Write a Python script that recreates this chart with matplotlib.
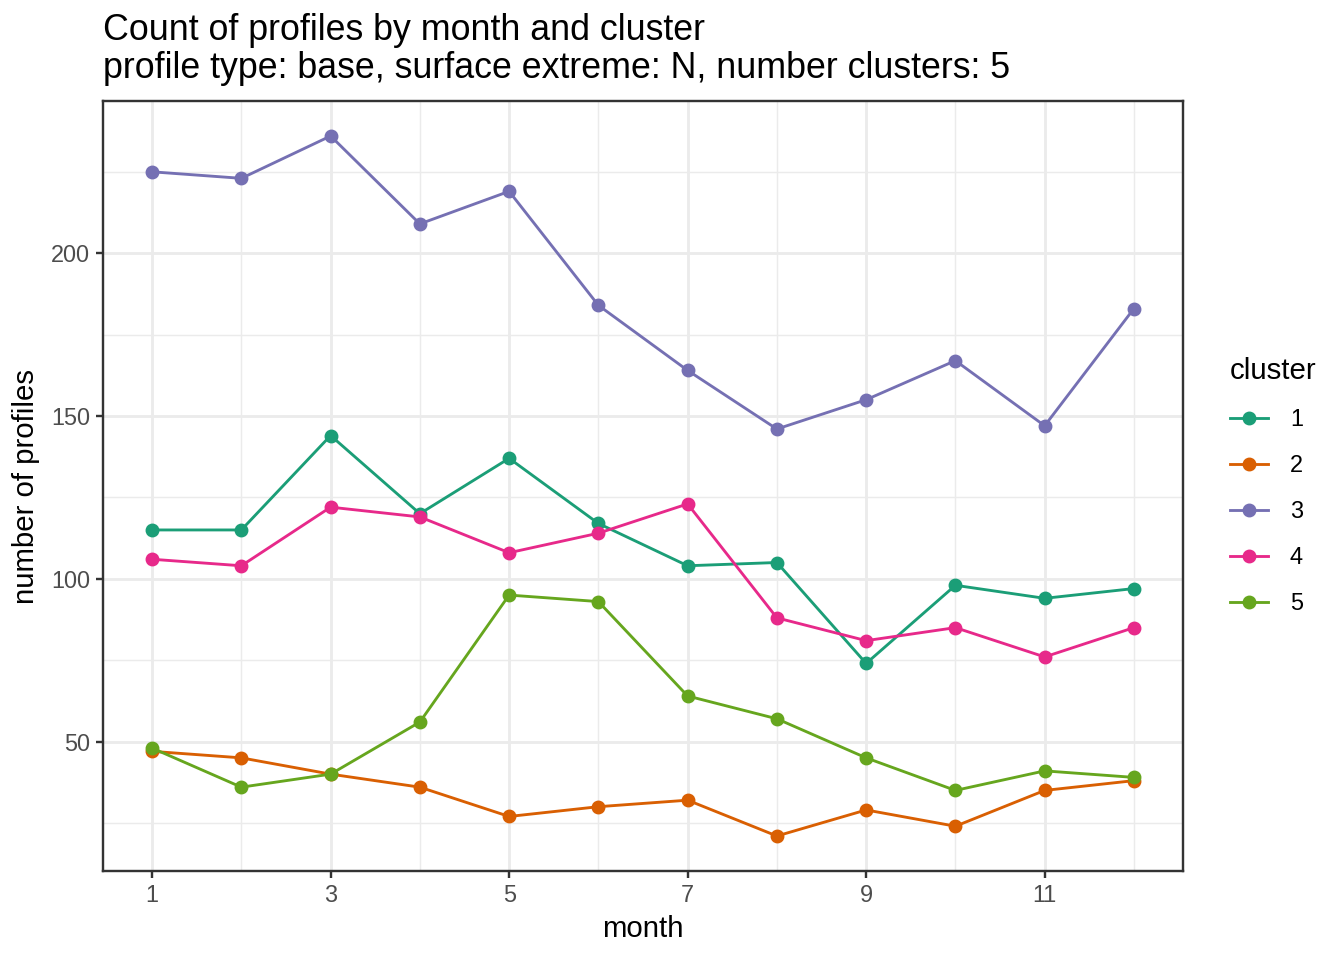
import matplotlib
matplotlib.use("Agg")
import matplotlib.pyplot as plt

plt.rcParams["font.family"] = ["Liberation Sans", "DejaVu Sans"]

months = list(range(1, 13))
clusters = ["1", "2", "3", "4", "5"]
c1 = [115, 115, 144, 120, 137, 117, 104, 105, 74, 98, 94, 97]
c2 = [47, 45, 40, 36, 27, 30, 32, 21, 29, 24, 35, 38]
c3 = [225, 223, 236, 209, 219, 184, 164, 146, 155, 167, 147, 183]
c4 = [106, 104, 122, 119, 108, 114, 123, 88, 81, 85, 76, 85]
c5 = [48, 36, 40, 56, 95, 93, 64, 57, 45, 35, 41, 39]
series = [c1, c2, c3, c4, c5]
colors = ["#1B9E77", "#D95F02", "#7570B3", "#E7298A", "#66A61E"]

fig = plt.figure(figsize=(7, 5), dpi=192)
ax = fig.add_axes([103 / 1344, 1 - 871 / 960, (1183 - 103) / 1344, (871 - 101) / 960])

for name, vals, col in zip(clusters, series, colors):
    ax.plot(months, vals, "-o", color=col, lw=1.07, ms=4.2, label=name)

ax.set_xlim(0.45, 12.55)
ax.set_ylim(10.25, 246.75)
ax.set_xticks([1, 3, 5, 7, 9, 11])
ax.set_xticks([2, 4, 6, 8, 10, 12], minor=True)
ax.set_yticks([50, 100, 150, 200])
ax.set_yticks([25, 75, 125, 175, 225], minor=True)
ax.grid(which="major", color="#EBEBEB", lw=1.07)
ax.grid(which="minor", color="#EBEBEB", lw=0.53)
ax.set_axisbelow(True)
for s in ax.spines.values():
    s.set_color("#333333")
    s.set_linewidth(0.9)
ax.tick_params(which="major", length=2.75, width=0.9, color="#333333",
               labelcolor="#4D4D4D", labelsize=8.8, pad=2.2)
ax.tick_params(which="minor", length=0)

ax.set_xlabel("month", fontsize=11, labelpad=3)
ax.set_ylabel("number of profiles", fontsize=11, labelpad=4)
fig.text(103 / 1344, 1 - 13 / 960,
         "Count of profiles by month and cluster\nprofile type: base, surface extreme: N, number clusters: 5",
         fontsize=13.4, va="top", ha="left", linespacing=1.1)

leg = ax.legend(loc="center left", bbox_to_anchor=(1.024, 0.5), frameon=False,
                title="cluster", fontsize=8.8, title_fontsize=11,
                handlelength=1.6, labelspacing=0.98, handletextpad=0.95)
leg._legend_box.align = "left"

fig.savefig("out.png", dpi=192)
